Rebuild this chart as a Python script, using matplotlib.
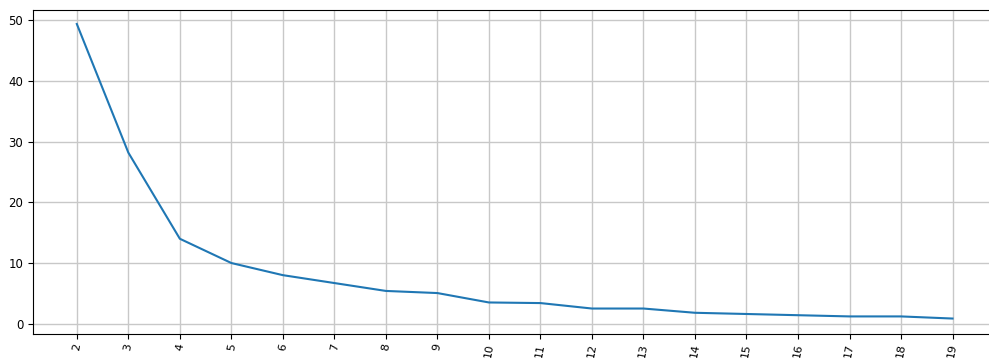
import numpy as np
import matplotlib.pyplot as plt

# cluster count vs. score
k = [2, 3, 4, 5, 6, 7, 8, 9, 10, 11, 12, 13, 14, 15, 16, 17, 18, 19]
score = [49.4, 28.2, 14.0, 10.0, 8.0, 6.7, 5.4, 5.05, 3.5, 3.4, 2.5, 2.5, 1.8, 1.6, 1.4, 1.2, 1.2, 0.85]

fig = plt.figure(figsize=(9.89, 3.58), dpi=100)
ax = fig.add_axes([0.0334, 0.067, 0.974, 0.905])
ax.plot(k, score, color='tab:blue', linewidth=1.5)
ax.set_xticks(k)
ax.set_xticklabels([str(v) for v in k], rotation=80, fontsize=8)
ax.tick_params(axis='x', pad=2.5)
ax.tick_params(axis='y', labelsize=8.5)
ax.set_xlim(1.15, 19.85)
ax.set_ylim(-1.7, 51.7)
ax.grid(True, color='#c8c8c8', linewidth=1)

fig.savefig('out.png', dpi=100)
